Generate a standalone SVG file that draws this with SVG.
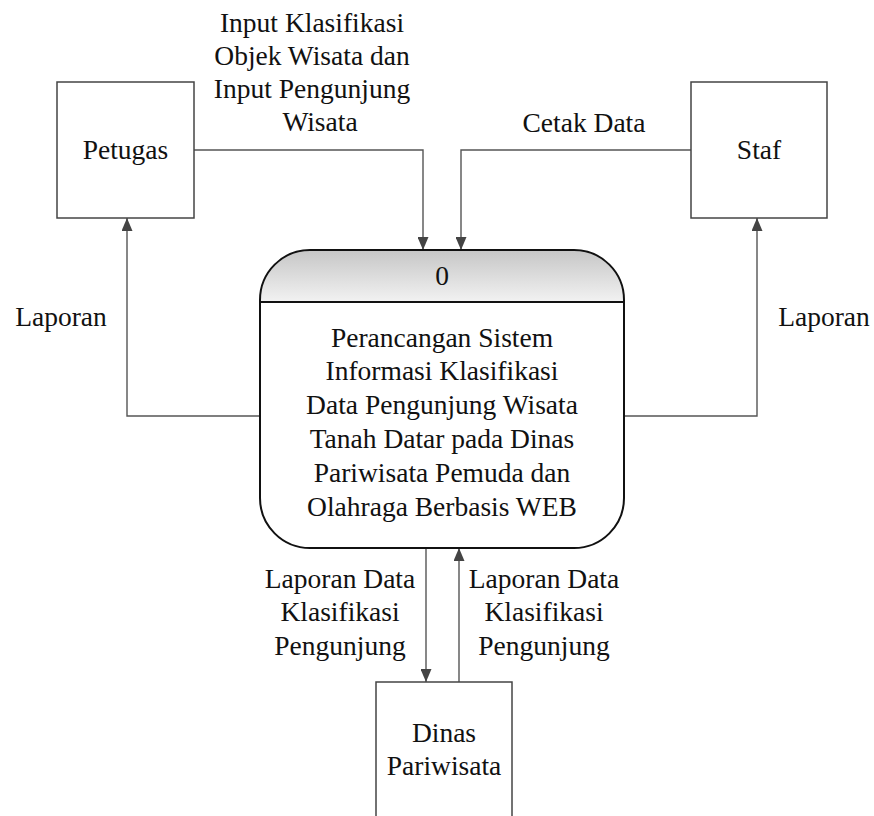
<svg xmlns="http://www.w3.org/2000/svg" width="874" height="816" viewBox="0 0 874 816">
<style>
text{font-family:'Liberation Serif','Times New Roman',Times,'DejaVu Serif',serif;font-size:27.5px;fill:#111;text-anchor:middle}
.box{fill:#fff;stroke:#444;stroke-width:1.5}
.conn{fill:none;stroke:#555;stroke-width:1.4}
</style>
<defs>
<linearGradient id="hdr" x1="0" y1="0" x2="0" y2="1">
<stop offset="0" stop-color="#c6c6c6"/>
<stop offset="1" stop-color="#f2f2f2"/>
</linearGradient>
<marker id="arr" viewBox="0 0 13 11" refX="13" refY="5.5" markerWidth="13" markerHeight="11" markerUnits="userSpaceOnUse" orient="auto">
<path d="M0,0 L13,5.5 L0,11 z" fill="#444"/>
</marker>
</defs>
<rect width="874" height="816" fill="#fff"/>
<g id="connectors">
<path class="conn" d="M194,150 H423 V250" marker-end="url(#arr)"/>
<path class="conn" d="M691,150 H461 V250" marker-end="url(#arr)"/>
<path class="conn" d="M260,416 H127 V218" marker-end="url(#arr)"/>
<path class="conn" d="M624,416 H757 V218" marker-end="url(#arr)"/>
<path class="conn" d="M426,548 V682" marker-end="url(#arr)"/>
<path class="conn" d="M459,682 V548" marker-end="url(#arr)"/>
</g>
<g id="labels" font-family="Liberation Serif, serif">
<text x="312" y="32">Input Klasifikasi</text>
<text x="312" y="65">Objek Wisata dan</text>
<text x="312" y="98">Input Pengunjung</text>
<text x="320" y="131">Wisata</text>
<text x="584" y="132">Cetak Data</text>
<text x="61" y="326">Laporan</text>
<text x="824" y="326">Laporan</text>
<text x="340" y="588">Laporan Data</text>
<text x="340" y="621">Klasifikasi</text>
<text x="340" y="655">Pengunjung</text>
<text x="544" y="588">Laporan Data</text>
<text x="544" y="621">Klasifikasi</text>
<text x="544" y="655">Pengunjung</text>
</g>
<g id="petugas">
<rect class="box" x="57" y="82" width="137" height="136"/>
<text x="125.5" y="159">Petugas</text>
</g>
<g id="staf">
<rect class="box" x="691" y="82" width="136" height="136"/>
<text x="759" y="159">Staf</text>
</g>
<g id="dinas">
<rect class="box" x="376" y="682" width="136" height="140"/>
<text x="444" y="742">Dinas</text>
<text x="444" y="775">Pariwisata</text>
</g>
<g id="process">
<path d="M310,250 H574 A50,50 0 0 1 624,300 V498 A50,50 0 0 1 574,548 H310 A50,50 0 0 1 260,498 V300 A50,50 0 0 1 310,250 Z" fill="#fff"/>
<path d="M260,302 V300 A50,50 0 0 1 310,250 H574 A50,50 0 0 1 624,300 V302 Z" fill="url(#hdr)"/>
<path d="M310,250 H574 A50,50 0 0 1 624,300 V498 A50,50 0 0 1 574,548 H310 A50,50 0 0 1 260,498 V300 A50,50 0 0 1 310,250 Z" fill="none" stroke="#111" stroke-width="2"/>
<line x1="260" y1="302" x2="624" y2="302" stroke="#111" stroke-width="2"/>
<text x="442" y="285">0</text>
<text x="442" y="347">Perancangan Sistem</text>
<text x="442" y="380">Informasi Klasifikasi</text>
<text x="442" y="414">Data Pengunjung Wisata</text>
<text x="442" y="448">Tanah Datar pada Dinas</text>
<text x="442" y="482">Pariwisata Pemuda dan</text>
<text x="442" y="516">Olahraga Berbasis WEB</text>
</g>
</svg>
